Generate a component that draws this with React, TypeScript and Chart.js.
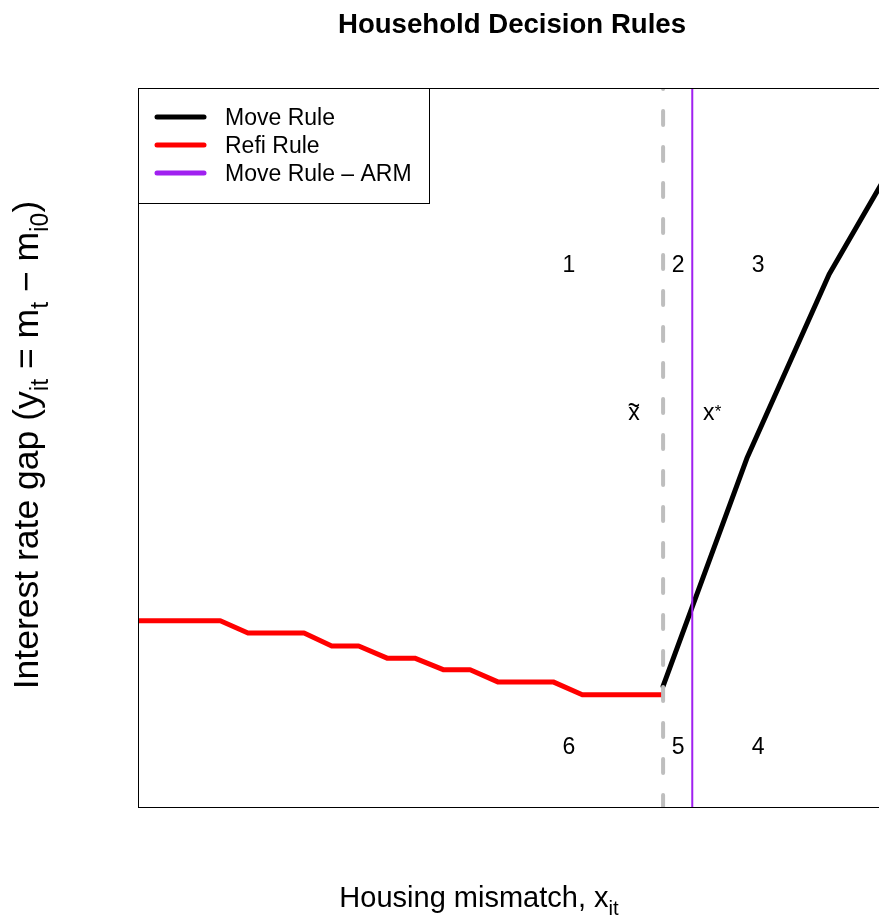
import React, { useEffect, useRef } from "react";
import { Chart, registerables } from "chart.js";

Chart.register(...registerables);

// ---------- data ----------
const chartTitle = "Household Decision Rules";
const xRange = [0, 100];
const yRange = [0, 100];

// Refi rule (step-like decreasing threshold)
const refiX = [0, 11.0, 14.7, 22.2, 25.9, 29.5, 33.3, 37.0, 40.8, 44.4, 48.1, 55.5, 59.4, 70.2];
const refiY = [25.9, 25.9, 24.2, 24.2, 22.4, 22.4, 20.7, 20.7, 19.1, 19.1, 17.4, 17.4, 15.6, 15.6];

// Move rule (increasing, piecewise linear)
const moveX = [70.2, 81.4, 92.4, 103.2];
const moveY = [16.8, 48.5, 74.1, 93.5];

// Vertical thresholds
const xTilde = 70.2; // dashed grey
const xStar = 74.1; // Move Rule - ARM (purple)

// Region annotations
const regionNames = ["1", "2", "3", "6", "5", "4"];
const regionX = [57.6, 72.2, 82.9, 57.6, 72.2, 82.9];
const regionY = [74.4, 74.4, 74.4, 7.4, 7.4, 7.4];
const thresholdLabelX = [66.3, 76.3];
const thresholdLabelY = [53.8, 53.8];

const legendLabels = ["Move Rule", "Refi Rule", "Move Rule \u2013 ARM"];

const FONT = '"Liberation Sans", Arial, Helvetica, sans-serif';

function pts(xs: number[], ys: number[]) {
  return xs.map((x, i) => ({ x, y: ys[i] }));
}

const annotationPlugin = {
  id: "rDecorations",
  afterDraw(chart: any) {
    const ctx: CanvasRenderingContext2D = chart.ctx;
    const area = chart.chartArea;
    const xs = chart.scales.x;
    const ys = chart.scales.y;
    ctx.save();

    // plot box
    ctx.strokeStyle = "#000";
    ctx.lineWidth = 1;
    ctx.setLineDash([]);
    ctx.strokeRect(area.left + 0.5, area.top + 0.5, area.right - area.left, area.bottom - area.top);

    // title
    ctx.fillStyle = "#000";
    ctx.textAlign = "center";
    ctx.textBaseline = "alphabetic";
    ctx.font = `bold 27.6px ${FONT}`;
    ctx.fillText(chartTitle, 512, 33);

    // region labels
    ctx.font = `23px ${FONT}`;
    regionNames.forEach((t, i) => {
      ctx.fillText(t, xs.getPixelForValue(regionX[i]), ys.getPixelForValue(regionY[i]));
    });

    // x tilde label
    const tx = xs.getPixelForValue(thresholdLabelX[0]);
    const ty = ys.getPixelForValue(thresholdLabelY[0]);
    ctx.fillText("x", tx, ty);
    ctx.save();
    ctx.translate(tx, ty - 5);
    ctx.scale(0.75, 1);
    ctx.font = `28px ${FONT}`;
    ctx.fillText("~", 0, 0);
    ctx.restore();

    // x star label
    const sx = xs.getPixelForValue(thresholdLabelX[1]);
    const sy = ys.getPixelForValue(thresholdLabelY[1]);
    ctx.font = `23px ${FONT}`;
    ctx.textAlign = "center";
    ctx.fillText("x", sx, sy);
    ctx.textAlign = "left";
    ctx.font = `17px ${FONT}`;
    ctx.fillText("*", sx + 6, sy - 3);

    // legend
    const lx = area.left;
    const ly = area.top;
    ctx.lineWidth = 1;
    ctx.strokeStyle = "#000";
    ctx.strokeRect(lx + 0.5, ly + 0.5, 291, 115);
    const legendDs = legendLabels.map((lab) => chart.data.datasets.find((d: any) => d.label === lab));
    legendDs.forEach((ds: any, i: number) => {
      const rowY = ly + 29 + i * 28;
      ctx.beginPath();
      ctx.strokeStyle = ds.borderColor;
      ctx.lineWidth = 5;
      ctx.lineCap = "round";
      ctx.moveTo(lx + 19, rowY);
      ctx.lineTo(lx + 66, rowY);
      ctx.stroke();
      ctx.fillStyle = "#000";
      ctx.font = `23px ${FONT}`;
      ctx.textAlign = "left";
      ctx.fillText(ds.label, lx + 87, rowY + 8);
    });

    // axis labels with subscripts
    const drawRich = (parts: { t: string; sub?: boolean }[], size: number) => {
      const widths = parts.map((p) => {
        ctx.font = `${p.sub ? size * 0.7 : size}px ${FONT}`;
        return ctx.measureText(p.t).width;
      });
      const total = widths.reduce((a, b) => a + b, 0);
      let cx = -total / 2;
      parts.forEach((p, i) => {
        ctx.font = `${p.sub ? size * 0.7 : size}px ${FONT}`;
        ctx.fillText(p.t, cx, p.sub ? size * 0.28 : 0);
        cx += widths[i];
      });
    };

    ctx.fillStyle = "#000";
    ctx.textAlign = "left";
    ctx.save();
    ctx.translate(479, 907);
    drawRich([{ t: "Housing mismatch, x" }, { t: "it", sub: true }], 29);
    ctx.restore();

    ctx.save();
    ctx.translate(38, 445);
    ctx.rotate(-Math.PI / 2);
    drawRich(
      [
        { t: "Interest rate gap (y" },
        { t: "it", sub: true },
        { t: " = m" },
        { t: "t", sub: true },
        { t: " \u2212 m" },
        { t: "i0", sub: true },
        { t: ")" },
      ],
      35.5
    );
    ctx.restore();

    ctx.restore();
  },
};

export default function App() {
  const ref = useRef<HTMLCanvasElement | null>(null);

  useEffect(() => {
    if (!ref.current) return;
    const chart = new Chart(ref.current, {
      type: "line",
      data: {
        datasets: [
          {
            label: "Move Rule \u2013 ARM",
            data: pts([xStar, xStar], [yRange[0] - 5, yRange[1] + 5]),
            borderColor: "#A020F0",
            borderWidth: 2,
            pointRadius: 0,
            clip: 0,
            order: 0,
          },
          {
            label: "x-tilde threshold",
            data: pts([xTilde, xTilde], [yRange[0], yRange[1] + 5]),
            borderColor: "#BEBEBE",
            borderWidth: 4,
            borderDash: [14, 22],
            borderDashOffset: 2,
            borderCapStyle: "round",
            pointRadius: 0,
            clip: 0,
            order: 1,
          },
          {
            label: "Move Rule",
            data: pts(moveX, moveY),
            borderColor: "#000000",
            borderWidth: 5,
            borderCapStyle: "round",
            borderJoinStyle: "round",
            pointRadius: 0,
            clip: 0,
            order: 2,
          },
          {
            label: "Refi Rule",
            data: pts(refiX, refiY),
            borderColor: "#FF0000",
            borderWidth: 5,
            borderCapStyle: "butt",
            borderJoinStyle: "round",
            pointRadius: 0,
            clip: 0,
            order: 3,
          },
        ],
      },
      options: {
        animation: false,
        responsive: false,
        devicePixelRatio: 1,
        events: [],
        layout: { padding: { left: 138, top: 88, right: 114, bottom: 109 } },
        scales: {
          x: { type: "linear", min: xRange[0], max: xRange[1], display: false },
          y: { type: "linear", min: yRange[0], max: yRange[1], display: false },
        },
        plugins: {
          legend: { display: false },
          title: { display: false },
          tooltip: { enabled: false },
        },
      },
      plugins: [annotationPlugin],
    } as any);
    return () => chart.destroy();
  }, []);

  return (
    <div
      style={{
        position: "absolute",
        left: 0,
        top: 0,
        width: 879,
        height: 916,
        overflow: "hidden",
        background: "#fff",
      }}
    >
      <canvas ref={ref} width={1000} height={916} style={{ width: 1000, height: 916, display: "block" }} />
    </div>
  );
}
